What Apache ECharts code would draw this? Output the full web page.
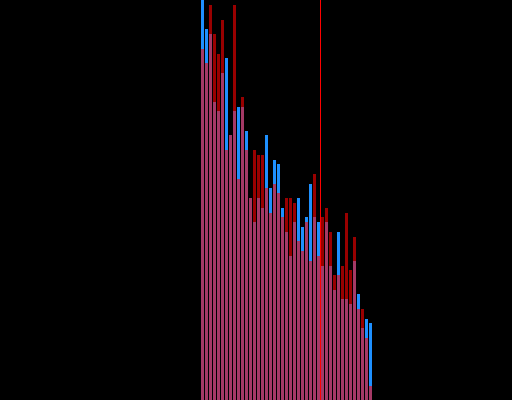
<!DOCTYPE html>
<html>
<head>
<meta charset="utf-8">
<script src="https://cdn.jsdelivr.net/npm/echarts@6/dist/echarts.min.js"></script>
<style>html,body{margin:0;padding:0;background:#000;}#c{width:512px;height:400px;}</style>
</head>
<body>
<div id="c"></div>
<script>
var bins = [1,2,3,4,5,6,7,8,9,10,11,12,13,14,15,16,17,18,19,20,21,22,23,24,25,26,27,28,29,30,31,32,33,34,35,36,37,38,39,40,41,42,43];
var blueValues = [104,92.75,91.5,74.5,72.25,81.75,85.5,66.25,72.25,73.25,73.25,67.25,50.5,44.5,50.5,48,66.25,53,60,59,48,42,36,44.5,50.5,43.25,45.75,54,45.75,44.5,33.5,44.5,33.5,27.5,42,25.25,25.25,24,34.75,26.5,18,20.25,19.25];
var redValues = [87.75,84.25,98.75,91.5,86.5,95,62.5,66.25,98.75,55.25,75.75,62.5,50.5,62.5,61.25,61.25,53,46.75,54,51.75,45.75,50.5,50.5,49.25,39.75,37.25,44.5,34.75,56.5,36,45.75,48,42,31.25,31.25,33.5,46.75,32.5,40.75,22.75,22.75,15.5,3.5];
var thresholdBin = 30.5;

var chart = echarts.init(document.getElementById('c'), null, {renderer: 'canvas'});
function pairs(vals){ return vals.map(function(v,i){ return [bins[i], v]; }); }
chart.setOption({
  backgroundColor: '#000000',
  animation: false,
  grid: {left: 200.5, right: 139.5, top: 0, bottom: 0},
  xAxis: {type: 'value', min: 0.5, max: 43.5, show: false},
  yAxis: {type: 'value', min: 0, max: 100, show: false},
  series: [
    {type: 'bar', data: pairs(blueValues), barWidth: 3, barGap: '-100%',
     itemStyle: {color: '#1E90FF'}, clip: true, silent: true},
    {type: 'bar', data: pairs(redValues), barWidth: 3, barGap: '-100%',
     itemStyle: {color: '#FF0000', opacity: 0.6}, clip: true, silent: true,
     markLine: {silent: true, symbol: ['none','none'], label: {show: false},
       lineStyle: {color: '#FF0000', width: 1, type: 'solid', opacity: 1},
       data: [{xAxis: thresholdBin}]}}
  ]
});
</script>
</body>
</html>
